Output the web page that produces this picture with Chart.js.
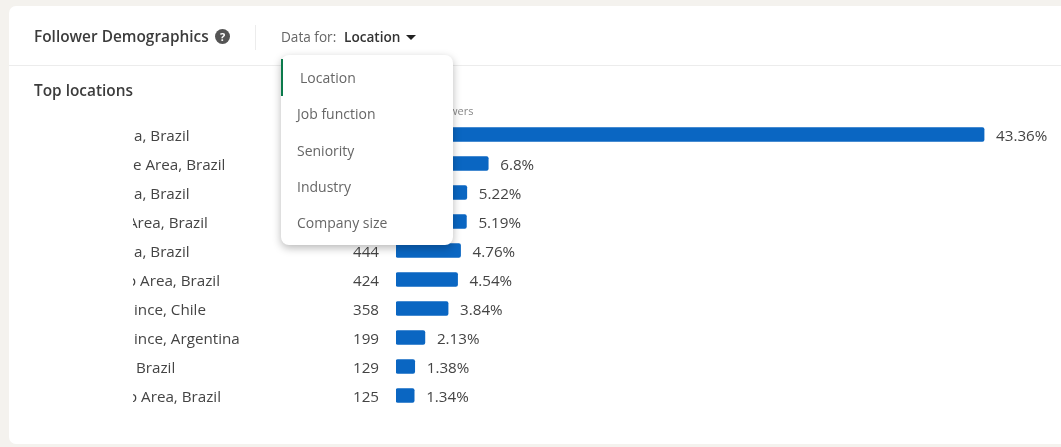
<!DOCTYPE html>
<html>
<head>
<meta charset="utf-8">
<script src="https://cdn.jsdelivr.net/npm/chart.js@4"></script>
<style>
  html, body { margin: 0; padding: 0; width: 1061px; height: 447px; overflow: hidden; background: #f4f2ee; font-family: "Open Sans", sans-serif; }
  .card { position: absolute; left: 9px; top: 6px; width: 1080px; height: 438px; background: #fff; border-radius: 7px; }
  #chart { position: absolute; left: 0; top: 0; }
  .txt { position: absolute; white-space: nowrap; color: #333; }
  .rule { position: absolute; background: #ececec; }
  .menu { position: absolute; left: 281px; top: 55px; width: 172px; height: 190px; background: #fff; border-radius: 8px; box-shadow: 0 3px 8px rgba(0,0,0,.28); }
  .menu .bar { position: absolute; left: 0; top: 4px; width: 2px; height: 37px; background: #0b7a4b; }
  .menu .txt { color: #666; font-size: 14px; }
  .caret { position: absolute; left: 406px; top: 35px; width: 0; height: 0; border-left: 5px solid transparent; border-right: 5px solid transparent; border-top: 5px solid #222; }
  .help { position: absolute; left: 215px; top: 29px; width: 15px; height: 15px; border-radius: 50%; background: #555; color: #fff; font: bold 11px/15px "Open Sans", sans-serif; text-align: center; }
</style>
</head>
<body>
<div class="card"></div>
<canvas id="chart" width="1061" height="447"></canvas>

<div class="rule" style="left:9px;top:65px;width:1052px;height:1px"></div>
<div class="rule" style="left:255px;top:25px;width:1px;height:25px"></div>
<div class="txt" style="left:34px;top:26px;font-size:15.4px;font-weight:600;color:#3c3c3c">Follower Demographics</div>
<div class="help">?</div>
<div class="txt" style="left:281px;top:27px;font-size:13.6px;color:#666">Data for:</div>
<div class="txt" style="left:344px;top:27px;font-size:13.6px;font-weight:600;color:#333">Location</div>
<div class="caret"></div>
<div class="txt" style="left:34px;top:80px;font-size:15.4px;font-weight:600;color:#3c3c3c">Top locations</div>
<div class="txt" style="left:449px;top:103px;font-size:11px;color:#888">wers</div>

<div class="menu">
  <div class="bar"></div>
  <div class="txt" style="left:19px;top:13px">Location</div>
  <div class="txt" style="left:16px;top:49px">Job function</div>
  <div class="txt" style="left:16px;top:86px">Seniority</div>
  <div class="txt" style="left:16px;top:122px">Industry</div>
  <div class="txt" style="left:16px;top:158px">Company size</div>
</div>

<script>
// labels are cut off on the left in the screenshot, the clip in rowText does that
const locations = ['a, Brazil', 'e Area, Brazil', 'a, Brazil', 'Area, Brazil', 'a, Brazil',
  'o Area, Brazil', 'ince, Chile', 'ince, Argentina', 'Brazil', 'o Area, Brazil'];
// first four counts are hidden behind the dropdown, estimated from the percentages
const followers = [4044, 634, 487, 484, 444, 424, 358, 199, 129, 125];
const percents = [43.36, 6.8, 5.22, 5.19, 4.76, 4.54, 3.84, 2.13, 1.38, 1.34];
const percentLabels = ['43.36%', '6.8%', '5.22%', '5.19%', '4.76%', '4.54%', '3.84%', '2.13%', '1.38%', '1.34%'];
const labelStarts = [134, 133, 134, 128, 134, 127, 134, 134, 136, 128];

const rowText = {
  id: 'rowText',
  afterDatasetsDraw(chart) {
    const { ctx, scales } = chart;
    ctx.save();
    ctx.font = '15.2px "Open Sans", sans-serif';
    ctx.fillStyle = '#444';
    ctx.textBaseline = 'middle';
    locations.forEach((name, i) => {
      const y = scales.y.getPixelForValue(i) + 2.5;
      ctx.save();
      ctx.beginPath();
      ctx.rect(133, y - 14, 200, 28);
      ctx.clip();
      ctx.textAlign = 'left';
      ctx.fillText(name, labelStarts[i], y);
      ctx.restore();
      ctx.textAlign = 'right';
      ctx.fillText(String(followers[i]), 379, y);
      ctx.textAlign = 'left';
      ctx.fillText(percentLabels[i], scales.x.getPixelForValue(percents[i]) + 12, y);
    });
    ctx.restore();
  }
};

new Chart(document.getElementById('chart').getContext('2d'), {
  type: 'bar',
  data: {
    labels: locations,
    datasets: [{
      data: percents,
      backgroundColor: '#0a66c2',
      borderRadius: 2,
      borderSkipped: false,
      barThickness: 14
    }]
  },
  options: {
    indexAxis: 'y',
    responsive: false,
    animation: false,
    layout: { padding: { left: 396, right: 14, top: 120, bottom: 37 } },
    plugins: { legend: { display: false }, tooltip: { enabled: false } },
    scales: {
      x: { display: false, min: 0, max: 48 },
      y: { display: false }
    }
  },
  plugins: [rowText]
});
</script>
</body>
</html>
